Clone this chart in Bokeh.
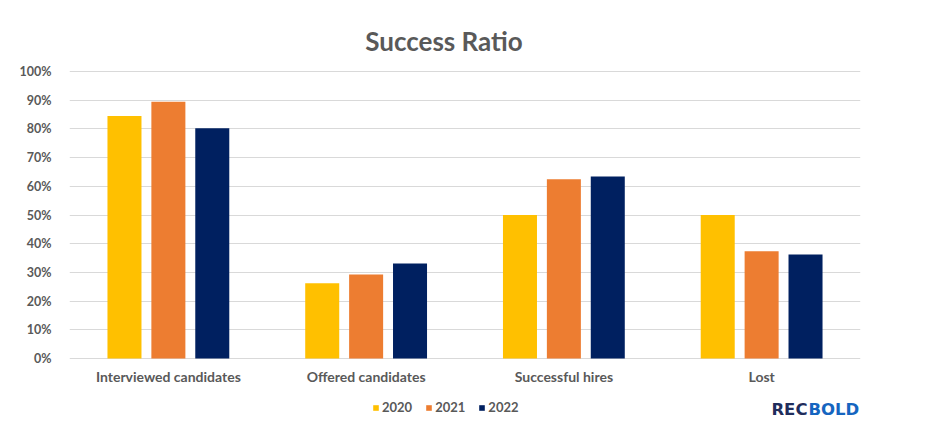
from bokeh.plotting import figure
from bokeh.models import (ColumnDataSource, FactorRange, NumeralTickFormatter,
                          Legend, LegendItem, FixedTicker, Range1d)
from bokeh.core.properties import value
from bokeh.transform import dodge
from bokeh.embed import file_html
from bokeh.resources import INLINE

categories = ["Interviewed candidates", "Offered candidates", "Successful hires", "Lost"]
years = ["2020", "2021", "2022"]
v2020 = [0.845, 0.262, 0.50, 0.50]
v2021 = [0.895, 0.293, 0.625, 0.374]
v2022 = [0.802, 0.331, 0.634, 0.362]
colors = ["#FFC000", "#ED7D31", "#002060"]
yticks = [0.0, 0.1, 0.2, 0.3, 0.4, 0.5, 0.6, 0.7, 0.8, 0.9, 1.0]

FONT = "Lato"
GREY = "#595959"

W, H = 931, 429
LEFT, RIGHT = 69, 71
PX = 287.0            # pixels for 0..100%
TOPPAD = 71.0         # pixels above 100%
BOTPAD = H - TOPPAD - PX

src = ColumnDataSource(dict(cat=categories, y2020=v2020, y2021=v2021, y2022=v2022))

p = figure(width=W, height=H, x_range=FactorRange(*categories),
           y_range=Range1d(-BOTPAD / PX, 1 + TOPPAD / PX),
           output_backend="svg", toolbar_location=None,
           min_border_left=LEFT, min_border_right=RIGHT, min_border_top=0, min_border_bottom=0)
p.outline_line_color = None
p.background_fill_color = "white"
p.border_fill_color = "white"
p.x_range.range_padding = 0

offsets = [-0.222, 0.0, 0.222]
renderers = []
for yr, off, col in zip(years, offsets, colors):
    r = p.vbar(x=dodge("cat", off, range=p.x_range), top="y" + yr, width=0.172,
               source=src, fill_color=col, line_color=None)
    renderers.append(r)

p.xgrid.grid_line_color = None
p.ygrid.grid_line_color = "#D9D9D9"
p.ygrid.grid_line_width = 1

p.xaxis.visible = False
p.yaxis.ticker = FixedTicker(ticks=yticks)
p.ygrid.ticker = FixedTicker(ticks=yticks)
p.yaxis.formatter = NumeralTickFormatter(format="0%")
p.yaxis.axis_line_color = None
p.yaxis.major_tick_line_color = None
p.yaxis.minor_tick_line_color = None
p.yaxis.major_label_text_font = FONT
p.yaxis.major_label_text_font_style = "bold"
p.yaxis.major_label_text_color = GREY
p.yaxis.major_label_text_font_size = "12.5px"
p.yaxis.major_label_standoff = 12

# category labels (x axis)
lab_y = -18.0 / PX
lab_src = ColumnDataSource(dict(x=categories, y=[lab_y] * len(categories), t=categories))
p.text(x="x", y="y", text="t", source=lab_src, text_align="center", text_baseline="middle",
       text_font=value(FONT), text_font_style="bold", text_font_size="14px", text_color=GREY)

legend = Legend(items=[LegendItem(label=yr, renderers=[r]) for yr, r in zip(years, renderers)],
                orientation="horizontal", location=(303, 14),
                border_line_color=None, background_fill_alpha=0,
                label_text_font=FONT, label_text_font_style="bold",
                label_text_font_size="13px", label_text_color=GREY,
                glyph_width=7, glyph_height=7, label_standoff=3, spacing=13,
                padding=2, margin=0)
p.add_layout(legend, "center")

# title
t_src = ColumnDataSource(dict(x=[(443.5 - LEFT) / 197.75], y=[1 + 31.0 / PX], t=["Success Ratio"]))
p.text(x="x", y="y", text="t", source=t_src, text_align="center", text_baseline="middle",
       text_font=value(FONT), text_font_style="bold", text_font_size="26px", text_color=GREY)

# logo
logo_y = -(408.5 - TOPPAD - PX) / PX
l1 = ColumnDataSource(dict(x=[(807 - LEFT) / 197.75], y=[logo_y], t=["REC"]))
l2 = ColumnDataSource(dict(x=[(808 - LEFT) / 197.75], y=[logo_y], t=["BOLD"]))
p.text(x="x", y="y", text="t", source=l1, text_align="right", text_baseline="middle",
       text_font=value("DejaVu Sans"), text_font_style="bold", text_font_size="16.5px",
       text_color="#1F2D5C")
p.text(x="x", y="y", text="t", source=l2, text_align="left", text_baseline="middle",
       text_font=value("DejaVu Sans"), text_font_style="bold", text_font_size="16.5px",
       text_color="#1565C0")

open("out.html", "w").write(file_html(p, INLINE))
